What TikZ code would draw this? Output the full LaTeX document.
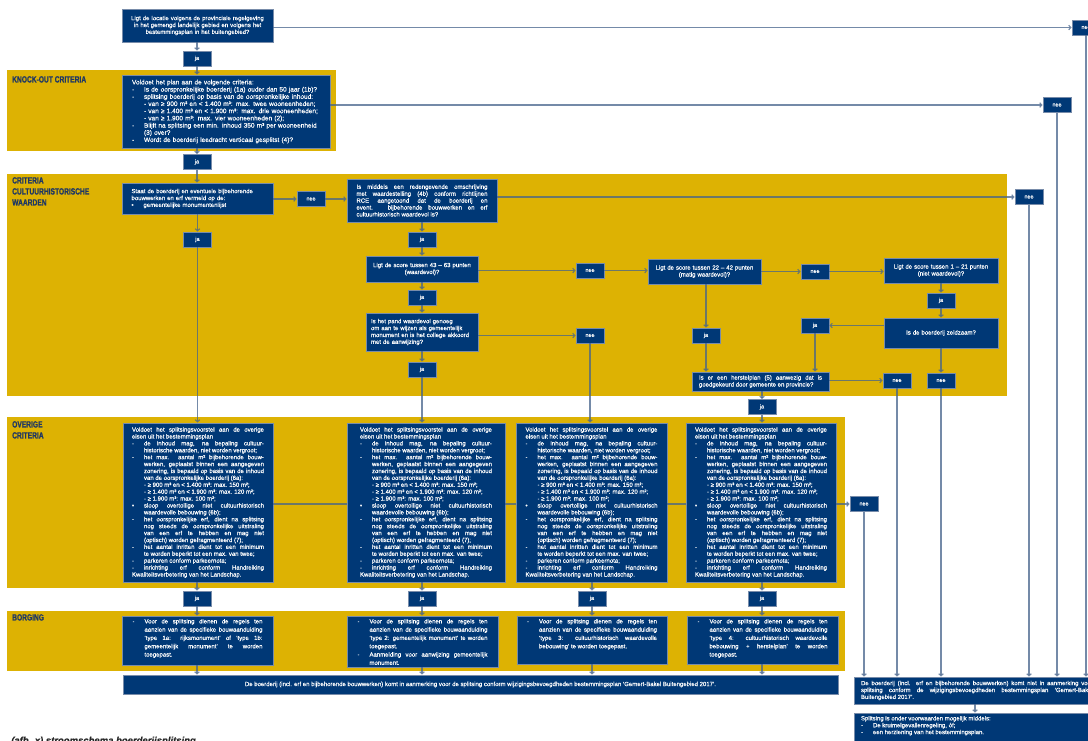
\documentclass[tikz,border=0pt]{standalone}
\usepackage{fontspec}
\setmainfont{Liberation Sans}[FakeBold=0.3]
\newfontfamily\condfont[FakeStretch=0.74,FakeBold=0.8]{Liberation Sans Bold}
\usetikzlibrary{arrows.meta}
\definecolor{navy}{RGB}{0,56,118}
\definecolor{bord}{RGB}{120,140,170}
\definecolor{gold}{RGB}{221,178,3}
\definecolor{conn}{RGB}{70,100,140}
\definecolor{lbl}{RGB}{30,55,100}
\newlength\lind \setlength\lind{12pt}
\newcommand\li[1]{\par\noindent\hangindent=\lind\hangafter=1\makebox[\lind][l]{#1}\ignorespaces}
\newcommand\subl{\par\noindent\hspace*{\lind}\ignorespaces}
\newcommand\bxf{\fontsize{6}{6.9}\selectfont\hyphenpenalty=10000\emergencystretch=3pt}
\newcommand\kxf{\fontsize{6.5}{7.2}\selectfont\hyphenpenalty=10000}
\newcommand\bgf{\fontsize{6}{8.3}\selectfont\hyphenpenalty=10000}
\newcommand\ynf{\fontsize{5.5}{6}\selectfont}
\newcommand\labf{\condfont\fontsize{9}{11}\selectfont}
\newcommand\otext{%
Voldoet het splitsingsvoorstel aan de overige\linebreak eisen uit het bestemmingsplan
\li{-}de inhoud mag, na bepaling cultuur-\linebreak historische waarden, niet worden vergroot;
\li{-}het max. aantal m² bijbehorende bouw-\linebreak werken, geplaatst binnen een aangegeven\linebreak zonering, is bepaald op basis van de inhoud\linebreak van de oorspronkelijke boerderij (6a):
\subl - ≥ 900 m³ en < 1.400 m³: max. 150 m²;
\subl - ≥ 1.400 m³ en < 1.900 m³: max. 120 m²;
\subl - ≥ 1.900 m³: max. 100 m²;
\li{\textbullet}sloop overtollige niet cultuurhistorisch\linebreak waardevolle bebouwing (6b);
\li{-}het oorspronkelijke erf, dient na splitsing\linebreak nog steeds de oorspronkelijke uitstraling\linebreak van een erf te hebben en mag niet\linebreak (optisch) worden gefragmenteerd (7);
\li{-}het aantal inritten dient tot een minimum\linebreak te worden beperkt tot een max. van twee;
\li{-}parkeren conform parkeernota;
\li{-}inrichting erf conform Handreiking\linebreak Kwaliteitsverbetering van het Landschap.}
\tikzset{
  nb/.style={fill=navy, draw=bord, line width=0.6pt, text=white, inner sep=0pt, font=\bxf},
  yn/.style={nb, minimum width=28pt, minimum height=15pt, font=\ynf},
  arr/.style={draw=conn, draw opacity=0.75, line width=1.1pt, -{Straight Barb[length=2.2pt,width=4.5pt]}},
  ln/.style={draw=conn, draw opacity=0.75, line width=1.1pt},
  band/.style={fill=gold},
  lab/.style={anchor=north west, text=lbl, font=\labf, align=left, inner sep=0pt},
  obox/.style={nb, minimum height=159pt, text width=132pt, align=justify},
  bbox/.style={nb, minimum height=49pt},
}
\begin{document}
\begin{tikzpicture}[x=1pt,y=-1pt]
\clip (0,0) rectangle (1088,740);
\fill[white] (0,0) rectangle (1088,740);
% bands
\fill[band] (7,70) rectangle (336,151);
\fill[band] (7,174) rectangle (1007,396);
\fill[band] (7,417) rectangle (845,588);
\fill[band] (7,611) rectangle (845,671);
% labels
\node[lab] (L1) at (12,76) {KNOCK-OUT CRITERIA};
\node[lab] (L2) at (12,177) {CRITERIA\\CULTUURHISTORISCHE\\WAARDEN};
\node[lab] (L3) at (12,421) {OVERIGE\\CRITERIA};
\node[lab] (L4) at (12,614) {BORGING};
% top
\node[nb, minimum width=151pt, minimum height=33pt, text width=143pt, align=center] (T) at (197.5,25.5)
 {Ligt de locatie volgens de provinciale regelgeving\\in het gemengd landelijk gebied en volgens het\\bestemmingsplan in het buitengebied?};
\node[yn] (ja1) at (197,58.5) {ja};
\node[yn] (nee0) at (1086,27.5) {nee};
% knock-out
\node[nb, minimum width=208pt, minimum height=73pt, text width=188pt, align=left, font=\kxf] (K) at (226,111.5)
 {Voldoet het plan aan de volgende criteria:
 \li{-}Is de oorspronkelijke boerderij (1a) ouder dan 50 jaar (1b)?
 \li{-}splitsing boerderij op basis van de oorspronkelijke inhoud:
 \subl - van ≥ 900 m³ en < 1.400 m³: max. twee wooneenheden;
 \subl - van ≥ 1.400 m³ en < 1.900 m³: max. drie wooneenheden;
 \subl - van ≥ 1.900 m³: max. vier wooneenheden (2);
 \li{-}Blijft na splitsing een min. inhoud 350 m³ per wooneenheid\newline (3) over?
 \li{-}Wordt de boerderij leedracht verticaal gesplitst (4)?};
\node[yn] (nee1) at (1057,105) {nee};
\node[yn] (ja2) at (197,162) {ja};
% criteria cultuurhistorische waarden
\node[nb, minimum width=151pt, minimum height=31pt, text width=132pt, align=left] (S) at (197.5,198.5)
 {Staat de boerderij en eventuele bijbehorende\linebreak bouwwerken en erf vermeld op de:
 \li{\textbullet}gemeentelijke monumentenlijst};
\node[yn] (nee2) at (311,199) {nee};
\node[nb, minimum width=150pt, minimum height=43pt, text width=131pt, align=justify] (M) at (422,200.5)
 {Is middels een redengevende omschrijving\linebreak met waardestelling (4b) conform richtlijnen\linebreak RCE aangetoond dat de boerderij en\linebreak event. bijbehorende bouwwerken en erf\linebreak cultuurhistorisch waardevol is?};
\node[yn] (nee3) at (1029,197) {nee};
\node[yn] (ja3) at (197.5,239.5) {ja};
\node[yn] (ja4) at (422,239.5) {ja};
\node[nb, minimum width=112pt, minimum height=26pt, text width=104pt, align=center] (A) at (422,269)
 {Ligt de score tussen 43 – 63 punten\\(waardevol)?};
\node[yn] (nee4) at (590,270.5) {nee};
\node[nb, minimum width=113pt, minimum height=25pt, text width=105pt, align=center] (B) at (704.5,271.5)
 {Ligt de score tussen 22 – 42 punten\\(matig waardevol)?};
\node[yn] (nee5) at (815,271.5) {nee};
\node[nb, minimum width=114pt, minimum height=25pt, text width=106pt, align=center] (C) at (941,270.5)
 {Ligt de score tussen 1 – 21 punten\\(niet waardevol)?};
\node[yn] (ja5) at (941,300.5) {ja};
\node[nb, minimum width=114pt, minimum height=30pt, text width=106pt, align=center] (Z) at (941,333)
 {Is de boerderij zeldzaam?};
\node[yn] (ja6) at (815,325.5) {ja};
\node[yn] (ja7) at (706,335.5) {ja};
\node[nb, minimum width=137pt, minimum height=19pt, text width=123pt, align=justify] (H) at (760.5,381.5)
 {Is er een herstelplan (5) aanwezig dat is\linebreak goedgekeurd door gemeente en provincie?};
\node[yn] (nee6) at (897,380.5) {nee};
\node[yn] (nee7) at (941,380.5) {nee};
\node[yn] (ja8) at (762,407) {ja};
\node[yn] (ja9) at (422,297.5) {ja};
\node[nb, minimum width=112pt, minimum height=38pt, text width=102pt, align=left] (P) at (422,332)
 {Is het pand waardevol genoeg\\om aan te wijzen als gemeentelijk\\monument en is het college akkoord\\met de aanwijzing?};
\node[yn] (nee8) at (590,335.5) {nee};
\node[yn] (ja10) at (422,369.5) {ja};
% overige criteria
\node[obox, minimum width=150pt] (O1) at (198,502.5) {\otext};
\node[obox, minimum width=158pt] (O2) at (426,502.5) {\otext};
\node[obox, minimum width=151pt] (O3) at (591.5,502.5) {\otext};
\node[obox, minimum width=150pt] (O4) at (761,502.5) {\otext};
\node[yn] (nee9) at (864,504) {nee};
\node[yn] (ja11) at (197,598.5) {ja};
\node[yn] (ja12) at (422,598.5) {ja};
\node[yn] (ja13) at (592,598.5) {ja};
\node[yn] (ja14) at (762,598.5) {ja};
% borging
\node[bbox, minimum width=151pt] (B1) at (197.5,640.5)
 {\parbox[c][43pt][t]{130pt}{\bgf\li{-}Voor de splitsing dienen de regels ten\linebreak aanzien van de specifieke bouwaanduiding\linebreak ‘type 1a: rijksmonument’ of ‘type 1b:\linebreak gemeentelijk monument’ te worden\linebreak toegepast.}};
\node[bbox, minimum width=151pt, minimum height=51pt] (B2) at (422.5,641.5)
 {\parbox[c][45pt][t]{130pt}{\bgf\li{-}Voor de splitsing dienen de regels ten\linebreak aanzien van de specifieke bouwaanduiding\linebreak ‘type 2: gemeentelijk monument’ te worden\linebreak toegepast.\li{-}Aanmelding voor aanwijzing gemeentelijk\linebreak monument.}};
\node[bbox, minimum width=150pt, minimum height=48pt] (B3) at (592,640)
 {\parbox[c][42pt][t]{130pt}{\bgf\li{-}Voor de splitsing dienen de regels ten\linebreak aanzien van de specifieke bouwaanduiding\linebreak ‘type 3: cultuurhistorisch waardevolle\linebreak bebouwing’ te worden toegepast.}};
\node[bbox, minimum width=151pt, minimum height=48pt] (B4) at (762.5,640)
 {\parbox[c][42pt][t]{130pt}{\bgf\li{-}Voor de splitsing dienen de regels ten\linebreak aanzien van de specifieke bouwaanduiding\linebreak ‘type 4: cultuurhistorisch waardevolle\linebreak bebouwing + herstelplan’ te worden\linebreak toegepast.}};
\node[nb, minimum width=715pt, minimum height=19pt] (E) at (480.5,684.5)
 {De boerderij (incl. erf en bijbehorende bouwwerken) komt in aanmerking voor de splitsing conform wijzigingsbevoegdheden bestemmingsplan ‘Gemert-Bakel Buitengebied 2017’.};
% right column results
\node[nb, minimum width=246pt, minimum height=27pt, text width=232pt, align=justify] (R1) at (977,690.5)
 {De boerderij (incl. erf en bijbehorende bouwwerken) komt niet in aanmerking voor\linebreak splitsing conform de wijzigingsbevoegdheden bestemmingsplan ‘Gemert-Bakel\linebreak Buitengebied 2017’.};
\node[nb, minimum width=246pt, minimum height=36pt] (R2) at (977,731)
 {\parbox[c][30pt][t]{232pt}{\bxf Splitsing is onder voorwaarden mogelijk middels:
 \li{-}De kruimelgevallenregeling, óf;
 \li{-}een herziening van het bestemmingsplan.}};
\node[anchor=north west, inner sep=0pt, text=black!85, font=\fontsize{9.5}{11}\selectfont\bfseries\itshape] (cap) at (11,736.5)
 {(afb. x) stroomschema boerderijsplitsing};
% connectors
\draw[arr] (T.south -| ja1.north) -- (ja1.north);
\draw[arr] (ja1.south) -- (ja1.south |- K.north);
\draw[arr] (T.east |- nee0.west) -- (nee0.west);
\draw[arr] (K.east |- nee1.west) -- (nee1.west);
\draw[arr] (ja2.north |- K.south) -- (ja2.north);
\draw[arr] (ja2.south) -- (ja2.south |- S.north);
\draw[arr] (S.east |- nee2.west) -- (nee2.west);
\draw[arr] (nee2.east) -- (nee2.east -| M.west);
\draw[arr] (M.east |- nee3.west) -- (nee3.west);
\draw[arr] (ja3.north |- S.south) -- (ja3.north);
\draw[arr] (ja3.south) -- (ja3.south |- O1.north);
\draw[arr] (M.south) -- (ja4.north);
\draw[arr] (ja4.south) -- (A.north);
\draw[arr] (A.east |- nee4.west) -- (nee4.west);
\draw[arr] (nee4.east) -- (nee4.east -| B.west);
\draw[arr] (B.east |- nee5.west) -- (nee5.west);
\draw[arr] (nee5.east) -- (nee5.east -| C.west);
\draw[arr] (C.south) -- (ja5.north);
\draw[arr] (ja5.south) -- (Z.north);
\draw[arr] (Z.west |- ja6.east) -- (ja6.east);
\draw[arr] (ja6.south) -- (ja6.south |- H.north);
\draw[arr] (ja7.north |- B.south) -- (ja7.north);
\draw[arr] (ja7.south) -- (ja7.south |- H.north);
\draw[arr] (H.east |- nee6.west) -- (nee6.west);
\draw[arr] (Z.south) -- (nee7.north);
\draw[arr] (ja8.north |- H.south) -- (ja8.north);
\draw[arr] (ja8.south) -- (ja8.south |- O4.north);
\draw[arr] (A.south) -- (ja9.north);
\draw[arr] (ja9.south) -- (P.north);
\draw[arr] (P.east |- nee8.west) -- (nee8.west);
\draw[arr] (nee8.south) -- (nee8.south |- O3.north);
\draw[arr] (P.south) -- (ja10.north);
\draw[arr] (ja10.south) -- (ja10.south |- O2.north);
\draw[ln] (O1.east |- nee9.west) -- (O2.west |- nee9.west);
\draw[ln] (O2.east |- nee9.west) -- (O3.west |- nee9.west);
\draw[ln] (O3.east |- nee9.west) -- (O4.west |- nee9.west);
\draw[arr] (O4.east |- nee9.west) -- (nee9.west);
\draw[arr] (ja11.north |- O1.south) -- (ja11.north);
\draw[arr] (ja12.north |- O2.south) -- (ja12.north);
\draw[arr] (ja13.north |- O3.south) -- (ja13.north);
\draw[arr] (ja14.north |- O4.south) -- (ja14.north);
\draw[arr] (ja11.south) -- (ja11.south |- B1.north);
\draw[arr] (ja12.south) -- (ja12.south |- B2.north);
\draw[arr] (ja13.south) -- (ja13.south |- B3.north);
\draw[arr] (ja14.south) -- (ja14.south |- B4.north);
\draw[arr] (ja11.south |- B1.south) -- (ja11.south |- E.north);
\draw[arr] (ja12.south |- B2.south) -- (ja12.south |- E.north);
\draw[arr] (ja13.south |- B3.south) -- (ja13.south |- E.north);
\draw[arr] (ja14.south |- B4.south) -- (ja14.south |- E.north);
\draw[arr] (nee9.south) -- (nee9.south |- R1.north);
\draw[arr] (nee6.south) -- (nee6.south |- R1.north);
\draw[arr] (nee7.south) -- (nee7.south |- R1.north);
\draw[arr] (nee3.south) -- (nee3.south |- R1.north);
\draw[arr] (nee1.south) -- (nee1.south |- R1.north);
\draw[arr] (nee0.south) -- (nee0.south |- R1.north);
\draw[arr] (R1.south -| 975,0) -- (R2.north -| 975,0);
\end{tikzpicture}
\end{document}
